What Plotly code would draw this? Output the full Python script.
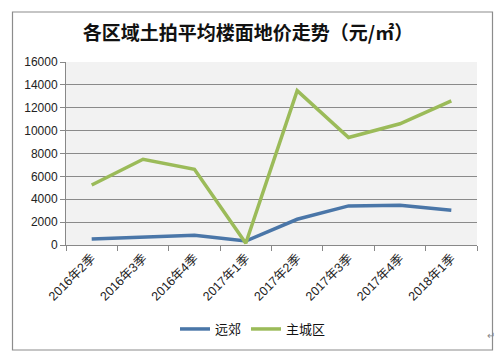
import plotly.graph_objects as go

categories = ["2016年2季", "2016年3季", "2016年4季", "2017年1季",
              "2017年2季", "2017年3季", "2017年4季", "2018年1季"]
suburb = [520, 680, 850, 350, 2250, 3420, 3480, 3040]
urban = [5250, 7500, 6620, 150, 13500, 9400, 10600, 12600]
y_ticks = [0, 2000, 4000, 6000, 8000, 10000, 12000, 14000, 16000]

W, H = 504, 359
L, R, T, B = 66, 27, 62, 114
pw, ph = W - L - R, H - T - B

def px_x(x):
    return (x - L) / pw

def px_y(y):
    return (H - B - y) / ph

fig = go.Figure()
fig.add_trace(go.Scatter(x=categories, y=suburb, mode="lines", name="远郊",
                         line=dict(color="#4a76a8", width=3.5)))
fig.add_trace(go.Scatter(x=categories, y=urban, mode="lines", name="主城区",
                         line=dict(color="#9bbb59", width=3.5)))

fig.update_layout(
    width=W, height=H,
    margin=dict(l=L, r=R, t=T, b=B),
    paper_bgcolor="white",
    plot_bgcolor="#f2f2f2",
    title=dict(text="<b>各区域土拍平均楼面地价走势（元/㎡）</b>",
               x=248 / W, xanchor="center", y=1 - 33 / H, yanchor="middle",
               font=dict(family="Noto Sans CJK SC", size=19, color="#111111")),
    font=dict(family="Liberation Sans, Noto Sans CJK SC", size=12, color="#222222"),
    showlegend=True,
    legend=dict(orientation="h", x=px_x(253), xanchor="center",
                y=px_y(329), yanchor="middle", itemwidth=30,
                font=dict(family="Noto Sans CJK SC", size=13, color="#111111"),
                bgcolor="rgba(0,0,0,0)"),
    xaxis=dict(type="category", tickson="boundaries", ticks="outside", ticklen=5,
               tickcolor="#888888", showline=True, linecolor="#888888", linewidth=1,
               showgrid=False, tickangle=-45, range=[-0.5, 7.5],
               tickfont=dict(family="Liberation Sans, Noto Sans CJK SC", size=12.5,
                             color="#222222")),
    yaxis=dict(range=[0, 16000], tickvals=y_ticks, tickformat="d",
               ticks="outside", ticklen=5,
               tickcolor="#888888", showline=True, linecolor="#888888", linewidth=1,
               showgrid=True, gridcolor="#8a8a8a", gridwidth=1, zeroline=False,
               tickfont=dict(family="Liberation Sans", size=12, color="#222222")),
)

fig.add_shape(type="rect", xref="paper", yref="paper",
              x0=px_x(12.5), x1=px_x(492.5), y0=px_y(350), y1=px_y(12),
              line=dict(color="#8c8c8c", width=1.2), fillcolor="rgba(0,0,0,0)",
              layer="below")
fig.add_annotation(text="↵", xref="paper", yref="paper", x=px_x(497), y=px_y(343),
                   showarrow=False, font=dict(size=10, color="#888888"))

fig.write_html("out.html", config={"displayModeBar": False},
               post_script="document.body.style.margin='0';document.body.style.padding='0';")
